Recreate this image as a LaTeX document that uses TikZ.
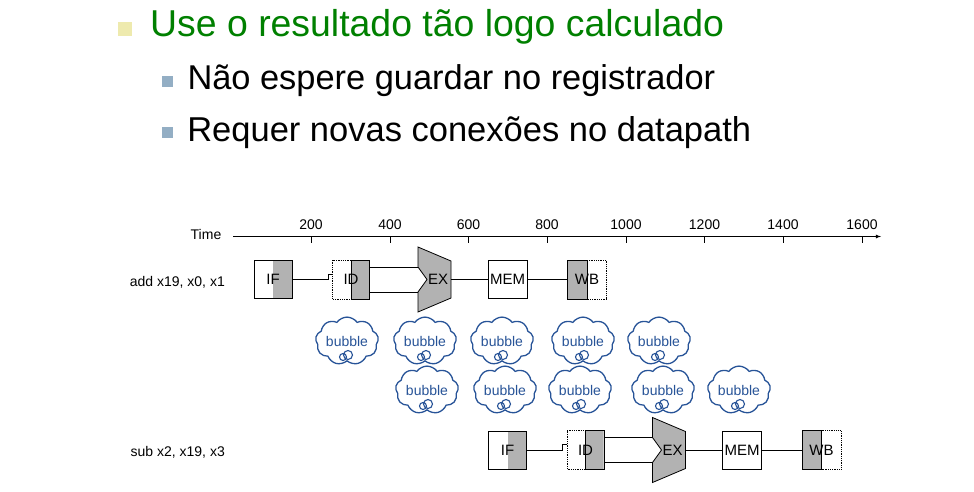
\documentclass[tikz,border=0pt]{standalone}
\usepackage{fontspec}
\setmainfont{Liberation Sans}
\usetikzlibrary{shapes.symbols}

\definecolor{titlegreen}{RGB}{0,128,0}
\definecolor{bulletyellow}{RGB}{238,234,174}
\definecolor{bulletblue}{RGB}{147,174,196}
\definecolor{stagegray}{RGB}{178,178,178}
\definecolor{bubbleblue}{RGB}{40,84,152}

% a bubble: the cloud and its two small rings
\newcommand{\bubblecloud}[3]{%
  \node[bubble] (#1) at (#2,#3) {bubble};
  \fill[white] ([xshift=1pt,yshift=-14pt]#1.center) circle (4.5pt)
               ([xshift=-4pt,yshift=-16pt]#1.center) circle (3.5pt);
  \draw[ring] ([xshift=1pt,yshift=-14pt]#1.center) circle (4.5pt)
              ([xshift=-4pt,yshift=-16pt]#1.center) circle (3.5pt);
}

\begin{document}
\begin{tikzpicture}[x=1pt, y=-1pt, >=latex]
    \tikzstyle{small} = [font=\fontsize{14}{16}\selectfont]
    \tikzstyle{stage} = [font=\fontsize{15}{17}\selectfont, minimum width=38pt, minimum height=38pt, inner sep=0pt, line width=0.8pt]
    \tikzstyle{grey right} = [path picture={\fill[stagegray] (path picture bounding box.north) rectangle (path picture bounding box.south east);}]
    \tikzstyle{grey left} = [path picture={\fill[stagegray] (path picture bounding box.north west) rectangle (path picture bounding box.south);}]
    \tikzstyle{alu} = [fill=stagegray, line width=0.8pt, line join=miter]
    \tikzstyle{wire} = [line width=0.8pt]
    \tikzstyle{bubble} = [cloud, cloud puffs=9, cloud puff arc=110, aspect=1.5, draw=bubbleblue, line width=1.3pt, fill=white, text=bubbleblue, small, minimum width=62pt, minimum height=40pt, inner sep=0pt]
    \tikzstyle{ring} = [draw=bubbleblue, line width=1.1pt]
    \useasboundingbox (0,0) rectangle (974,491);

    % slide text
    \node[fill=bulletyellow, minimum size=14pt, inner sep=0pt] (b0) at (125,29) {};
    \node[anchor=base west, inner sep=0pt, text=titlegreen, font=\fontsize{37.4}{43}\selectfont] (title) at (150,36.7) {Use o resultado tão logo calculado};
    \node[fill=bulletblue, minimum size=11pt, inner sep=0pt] (b1) at (167.5,81.5) {};
    \node[anchor=base west, inner sep=0pt, font=\fontsize{34.4}{40}\selectfont] (item1) at (187.3,89.3) {Não espere guardar no registrador};
    \node[fill=bulletblue, minimum size=11pt, inner sep=0pt] (b2) at (167.5,132) {};
    \node[anchor=base west, inner sep=0pt, font=\fontsize{34.5}{40}\selectfont] (item2) at (187.1,141.7) {Requer novas conexões no datapath};

    % time axis
    \node[small] (time) at (206,234) {Time};
    \coordinate (axstart) at (233,236.5);
    \coordinate (axend) at (881,236.5);
    \draw[wire, ->] (axstart) -- (axend);
    \draw[wire] (311,236.5) -- (311,243);
    \draw[wire] (390,236.5) -- (390,243);
    \draw[wire] (468.5,236.5) -- (468.5,243);
    \draw[wire] (547,236.5) -- (547,243);
    \draw[wire] (626,236.5) -- (626,243);
    \draw[wire] (704.5,236.5) -- (704.5,243);
    \draw[wire] (783,236.5) -- (783,243);
    \draw[wire] (862,236.5) -- (862,243);
    \node[small] (t200) at (311,225) {200};
    \node[small] (t400) at (390,225) {400};
    \node[small] (t600) at (468.5,225) {600};
    \node[small] (t800) at (547,225) {800};
    \node[small] (t1000) at (626,225) {1000};
    \node[small] (t1200) at (704.5,225) {1200};
    \node[small] (t1400) at (783,225) {1400};
    \node[small] (t1600) at (862,225) {1600};

    % add x19, x0, x1
    \node[small, anchor=east, inner sep=0pt] (instr1) at (225,282) {add x19, x0, x1};
    \node[stage, grey right, draw] (if1) at (273,279.5) {IF};
    \node[stage, grey right, minimum width=36pt] (id1) at (351,279.5) {ID};
    \draw[wire, densely dotted] (id1.north) -- (id1.north west) -- (id1.south west) -- (id1.south);
    \draw[wire] (id1.north) rectangle (id1.south east);
    \draw[alu] (418,247) -- (451,261) -- (451,298) -- (418,312) -- (418,292) coordinate (ex1nb)
        -- (427,279.5) -- (418,267) coordinate (ex1nt) -- cycle;
    \coordinate (ex1r) at (451,279.5);
    \node[stage] (ex1) at (438,279.5) {EX};
    \node[stage, draw, minimum width=39pt] (mem1) at (507.5,279.5) {MEM};
    \node[stage, grey left] (wb1) at (587,279.5) {WB};
    \draw[wire] (wb1.north west) rectangle (wb1.south);
    \draw[wire, densely dotted] (wb1.north) -- (wb1.north east) -- (wb1.south east) -- (wb1.south);
    \draw[wire] (if1.east) -| ([xshift=-4.5pt, yshift=5.5pt]id1.west) -- ([yshift=5.5pt]id1.west);
    \draw[wire] (id1.east |- ex1nt) -- (ex1nt);
    \draw[wire] (id1.east |- ex1nb) -- (ex1nb);
    \draw[wire] (ex1r) -- (mem1.west);
    \draw[wire] (mem1.east) -- (wb1.west);

    % bubbles
    \bubblecloud{bub1}{347}{341}
    \bubblecloud{bub2}{425}{341}
    \bubblecloud{bub3}{502}{341}
    \bubblecloud{bub4}{583}{341}
    \bubblecloud{bub5}{659}{341}
    \bubblecloud{bub6}{427}{390}
    \bubblecloud{bub7}{505}{390}
    \bubblecloud{bub8}{580}{390}
    \bubblecloud{bub9}{663}{390}
    \bubblecloud{bub10}{739}{390}

    % sub x2, x19, x3
    \node[small, anchor=east, inner sep=0pt] (instr2) at (225,452) {sub x2, x19, x3};
    \begin{scope}[shift={(234.5,170.5)}]
        \node[stage, grey right, draw] (if2) at (273,279.5) {IF};
        \node[stage, grey right, minimum width=36pt] (id2) at (351,279.5) {ID};
        \draw[wire, densely dotted] (id2.north) -- (id2.north west) -- (id2.south west) -- (id2.south);
        \draw[wire] (id2.north) rectangle (id2.south east);
        \draw[alu] (418,247) -- (451,261) -- (451,298) -- (418,312) -- (418,292) coordinate (ex2nb)
            -- (427,279.5) -- (418,267) coordinate (ex2nt) -- cycle;
        \coordinate (ex2r) at (451,279.5);
        \node[stage] (ex2) at (438,279.5) {EX};
        \node[stage, draw, minimum width=39pt] (mem2) at (507.5,279.5) {MEM};
        \node[stage, grey left] (wb2) at (587,279.5) {WB};
        \draw[wire] (wb2.north west) rectangle (wb2.south);
        \draw[wire, densely dotted] (wb2.north) -- (wb2.north east) -- (wb2.south east) -- (wb2.south);
        \draw[wire] (if2.east) -| ([xshift=-4.5pt, yshift=5.5pt]id2.west) -- ([yshift=5.5pt]id2.west);
        \draw[wire] (id2.east |- ex2nt) -- (ex2nt);
        \draw[wire] (id2.east |- ex2nb) -- (ex2nb);
        \draw[wire] (ex2r) -- (mem2.west);
        \draw[wire] (mem2.east) -- (wb2.west);
    \end{scope}
\end{tikzpicture}
\end{document}
